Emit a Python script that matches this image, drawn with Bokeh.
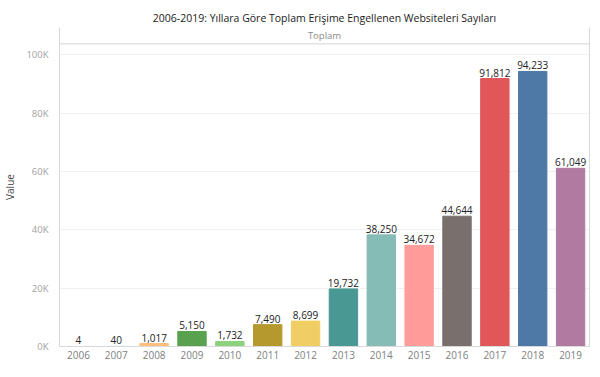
from bokeh.plotting import figure
from bokeh.models import (FactorRange, Range1d, FixedTicker, CustomJSTickFormatter,
                          Span, Label, LinearAxis, ColumnDataSource)
from bokeh.core.properties import value
from bokeh.embed import file_html
from bokeh.resources import INLINE

years = ["2006", "2007", "2008", "2009", "2010", "2011", "2012",
         "2013", "2014", "2015", "2016", "2017", "2018", "2019"]
counts = [4, 40, 1017, 5150, 1732, 7490, 8699,
          19732, 38250, 34672, 44644, 91812, 94233, 61049]
colors = ["#4E79A7", "#A0CBE8", "#FFBE7D", "#59A14F", "#8CD17D", "#B6992D", "#F1CE63",
          "#499894", "#86BCB6", "#FF9D9A", "#79706E", "#E15759", "#4E79A7", "#B07AA1"]
y_ticks = [0, 20000, 40000, 60000, 80000, 100000]

TITLE = "2006-2019: Yıllara Göre Toplam Erişime Engellenen Websiteleri Sayıları"
HEADER = "Toplam"
FONT = "Open Sans"

Y_PLOT_TOP = 103700   # top of the plotting pane (below header)
Y_TOP = 109300        # top of header strip
HEADER_MID = (Y_PLOT_TOP + Y_TOP) / 2

labels = [f"{v:,}" for v in counts]
src = ColumnDataSource(dict(year=years, count=counts, color=colors, label=labels))

p = figure(width=592, height=361, output_backend="svg", toolbar_location=None,
           x_range=FactorRange(*years, range_padding=0),
           y_range=Range1d(0, Y_TOP),
           min_border_left=48, min_border_right=3, min_border_top=27, min_border_bottom=0)

p.title.text = TITLE
p.title.align = "center"
p.title.text_font = FONT
p.title.text_font_size = "10.5px"
p.title.text_font_style = "normal"
p.title.text_color = "#1a1a1a"
p.title.standoff = 6
p.title.offset = 0

p.outline_line_color = None
p.background_fill_color = "white"
p.border_fill_color = "white"

p.vbar(x="year", top="count", width=0.75, color="color", source=src)
p.text(x="year", y="count", text="label", source=src,
       text_align="center", text_baseline="bottom", y_offset=-2,
       text_font=value(FONT), text_font_size="10px", text_color="#222222")

# header strip
p.add_layout(Span(location=Y_PLOT_TOP, dimension="width",
                  line_color="#d4d4d4", line_width=1))
p.add_layout(Label(x=len(years) / 2, y=HEADER_MID, text=HEADER,
                   text_align="center", text_baseline="middle",
                   text_font=FONT, text_font_size="9.5px", text_color="#8a8a8a"))

# y axis
yax = p.yaxis[0]
yax.ticker = FixedTicker(ticks=y_ticks)
yax.formatter = CustomJSTickFormatter(code="return (tick/1000).toFixed(0) + 'K';")
yax.axis_label = "Value"
yax.axis_label_text_font = FONT
yax.axis_label_text_font_size = "10px"
yax.axis_label_text_font_style = "normal"
yax.axis_label_text_color = "#444444"
yax.axis_label_standoff = 6
yax.major_label_text_font = FONT
yax.major_label_text_font_size = "9.5px"
yax.major_label_text_color = "#a0a0a0"
yax.major_label_standoff = 5
yax.major_tick_line_color = None
yax.minor_tick_line_color = None
yax.axis_line_color = "#d9d9d9"

# x axis
xax = p.xaxis[0]
xax.major_label_text_font = FONT
xax.major_label_text_font_size = "10px"
xax.major_label_text_color = "#808080"
xax.major_label_standoff = 4
xax.axis_label = None
xax.axis_label_standoff = 0
xax.major_tick_in = 0
xax.major_tick_out = 0
xax.minor_tick_in = 0
xax.minor_tick_out = 0
xax.major_tick_line_color = None
xax.minor_tick_line_color = None
xax.axis_line_color = "#d9d9d9"

# right border
rax = LinearAxis(ticker=FixedTicker(ticks=[]), axis_line_color="#d9d9d9",
                 major_tick_line_color=None, minor_tick_line_color=None,
                 major_label_text_font_size="0px")
p.add_layout(rax, "right")

p.xgrid.grid_line_color = None
p.ygrid.grid_line_color = "#f0f0f0"
p.ygrid.ticker = FixedTicker(ticks=y_ticks)

open("out.html", "w").write(file_html(p, INLINE))
